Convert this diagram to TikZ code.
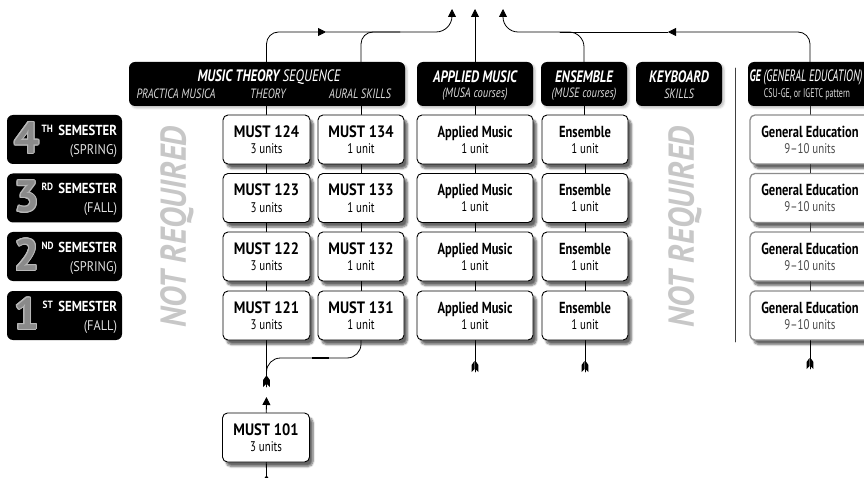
\documentclass[tikz,border=0pt]{standalone}
\usepackage{fontspec}
\setmainfont[FakeStretch=0.78]{PT Sans}
\newfontfamily\widefont[FakeStretch=0.88]{PT Sans}
\newfontfamily\semifont[FakeStretch=0.88]{PT Sans}
\newfontfamily\bigdigit{PT Sans}
\usepackage{contour}
\contourlength{0.9pt}
\usetikzlibrary{arrows.meta,shadows.blur,calc}
\newcommand{\ctitle}{\widefont\fontsize{16.5}{19}\selectfont\bfseries}
\newcommand{\atitle}{\fontsize{16}{19}\selectfont\bfseries}
\newcommand{\cunits}{\fontsize{14}{15}\selectfont}
\definecolor{semgray}{HTML}{8A8A8A}
\definecolor{gegray}{HTML}{8C8C8C}
\tikzset{fletch/.pic={
  \draw[line width=0.8pt] (0,0) -- (0,11);
  \fill (-0.5,0) -- (-3.4,4) -- (-3.4,11) -- (-0.5,8) -- cycle;
  \fill (0.5,0) -- (3.4,4) -- (3.4,11) -- (0.5,8) -- cycle;}}

\begin{document}
\begin{tikzpicture}[x=1pt,y=-1pt,line cap=round,line join=round,
  head/.style={fill=black,rounded corners=6pt,minimum height=44pt,minimum width=#1,inner sep=0pt,
    blur shadow={shadow xshift=2pt,shadow yshift=-2pt,shadow opacity=25,shadow blur steps=4}},
  headtxt/.style={text=white,font=\fontsize{16.5}{17}\selectfont\bfseries\itshape,inner sep=0pt},
  headsub/.style={text=white!85!black,font=\fontsize{13.5}{14}\selectfont\itshape,inner sep=0pt},
  course/.style={draw,line width=0.9pt,fill=white,rounded corners=5pt,minimum width=#1,minimum height=49pt,
    inner sep=0pt,align=center,font=\cunits,
    blur shadow={shadow xshift=3.5pt,shadow yshift=-4.5pt,shadow opacity=60,shadow blur steps=6}},
  gecourse/.style={course=120,draw=gegray,line width=1.3pt},
  sem/.style={fill=black,rounded corners=6pt,minimum width=115pt,minimum height=49pt,inner sep=0pt},
  semdigit/.style={text=semgray,font=\bigdigit\fontsize{44}{44}\selectfont\bfseries,inner sep=0pt,anchor=base},
  semsup/.style={text=white,font=\semifont\fontsize{10.5}{10}\selectfont\bfseries,inner sep=0pt,anchor=base west},
  semword/.style={text=white,font=\semifont\fontsize{14.5}{15}\selectfont\bfseries,inner sep=0pt,anchor=base east},
  semseason/.style={text=white!88!black,font=\semifont\fontsize{14}{15}\selectfont,inner sep=0pt,anchor=base east},
  notreq/.style={text=black!22,font=\semifont\fontsize{36}{36}\selectfont\bfseries\itshape,inner sep=0pt,rotate=90},
  flow/.style={line width=0.8pt},
  link/.style={line width=0.8pt},
  tip/.style={-{Triangle[length=8pt,width=8pt]}}]
\useasboundingbox (0,0) rectangle (864,478);
\clip (0,0) rectangle (864,478);

% semesters
\node[sem] (sem4) at (64.5,139.5) {};
\node[semdigit] (d4) at ($(sem4.south west)+(20,-11)$) {\contour{white!72!black}{4}};
\node[semsup] (s4) at ($(d4.base east)+(2,-21)$) {TH};
\node[semword] (w4) at ($(sem4.south east)+(-5,-29)$) {SEMESTER};
\node[semseason] (t4) at ($(sem4.south east)+(-5,-10)$) {(SPRING)};
\node[sem] (sem3) at (64.5,198) {};
\node[semdigit] (d3) at ($(sem3.south west)+(20,-11)$) {\contour{white!72!black}{3}};
\node[semsup] (s3) at ($(d3.base east)+(2,-21)$) {RD};
\node[semword] (w3) at ($(sem3.south east)+(-5,-29)$) {SEMESTER};
\node[semseason] (t3) at ($(sem3.south east)+(-5,-10)$) {(FALL)};
\node[sem] (sem2) at (64.5,256.5) {};
\node[semdigit] (d2) at ($(sem2.south west)+(20,-11)$) {\contour{white!72!black}{2}};
\node[semsup] (s2) at ($(d2.base east)+(2,-21)$) {ND};
\node[semword] (w2) at ($(sem2.south east)+(-5,-29)$) {SEMESTER};
\node[semseason] (t2) at ($(sem2.south east)+(-5,-10)$) {(SPRING)};
\node[sem] (sem1) at (64.5,315.5) {};
\node[semdigit] (d1) at ($(sem1.south west)+(20,-11)$) {\contour{white!72!black}{1}};
\node[semsup] (s1) at ($(d1.base east)+(3,-21)$) {ST};
\node[semword] (w1) at ($(sem1.south east)+(-5,-29)$) {SEMESTER};
\node[semseason] (t1) at ($(sem1.south east)+(-5,-10)$) {(FALL)};

% headers
\node[head=276] (hTh) at (267,84) {};
\node[headtxt] (hThA) at (269,77) {MUSIC THEORY \mdseries SEQUENCE};
\node[headsub] (hThP) at (176,94) {PRACTICA MUSICA};
\node[headsub] (hThT) at (268,94) {THEORY};
\node[headsub] (hThS) at (360,94) {AURAL SKILLS};
\node[head=116] (hAp) at (475,84) {};
\node[headtxt] (hApA) at (475,77) {APPLIED MUSIC};
\node[headsub] (hApB) at (475,94) {(MUSA courses)};
\node[head=86] (hEn) at (584,84) {};
\node[headtxt] (hEnA) at (584,77) {ENSEMBLE};
\node[headsub] (hEnB) at (584,94) {(MUSE courses)};
\node[head=86] (hKb) at (679,84) {};
\node[headtxt] (hKbA) at (679,77) {KEYBOARD};
\node[headsub] (hKbB) at (679,94) {SKILLS};
\node[head=124] (hGE) at (810,84) {};
\node[headtxt] (hGEA) at (806,77) {\scalebox{0.81}[1]{GE \mdseries(GENERAL EDUCATION)}};
\node[headsub,font=\fontsize{12.5}{13}\selectfont] (hGEB) at (807,94) {\scalebox{0.82}[1]{CSU-GE, or IGETC pattern}};

% not required
\node[notreq] (nr1) at (177,227) {NOT REQUIRED};
\node[notreq] (nr2) at (685,227) {NOT REQUIRED};
\draw[line width=0.6pt,black!75] (735,68) -- (735,342);

% theory
\node[course=87] (m124) at (266.5,139.5) {{\ctitle MUST 124}\\[1.5pt]3 units};
\node[course=87] (m123) at (266.5,198) {{\ctitle MUST 123}\\[1.5pt]3 units};
\node[course=87] (m122) at (266.5,256.5) {{\ctitle MUST 122}\\[1.5pt]3 units};
\node[course=87] (m121) at (266.5,315.5) {{\ctitle MUST 121}\\[1.5pt]3 units};
\node[course=87] (m101) at (266,437.5) {{\ctitle MUST 101}\\[1.5pt]3 units};
% aural skills
\node[course=86] (m134) at (361,139.5) {{\ctitle MUST 134}\\[1.5pt]1 unit};
\node[course=86] (m133) at (361,198) {{\ctitle MUST 133}\\[1.5pt]1 unit};
\node[course=86] (m132) at (361,256.5) {{\ctitle MUST 132}\\[1.5pt]1 unit};
\node[course=86] (m131) at (361,315.5) {{\ctitle MUST 131}\\[1.5pt]1 unit};
% applied music
\node[course=116] (ap4) at (475,139.5) {{\atitle Applied Music}\\[1pt]1 unit};
\node[course=116] (ap3) at (475,198) {{\atitle Applied Music}\\[1pt]1 unit};
\node[course=116] (ap2) at (475,256.5) {{\atitle Applied Music}\\[1pt]1 unit};
\node[course=116] (ap1) at (475,315.5) {{\atitle Applied Music}\\[1pt]1 unit};
% ensemble
\node[course=86] (en4) at (585,139.5) {{\atitle Ensemble}\\[1pt]1 unit};
\node[course=86] (en3) at (585,198) {{\atitle Ensemble}\\[1pt]1 unit};
\node[course=86] (en2) at (585,256.5) {{\atitle Ensemble}\\[1pt]1 unit};
\node[course=86] (en1) at (585,315.5) {{\atitle Ensemble}\\[1pt]1 unit};
% general education
\node[gecourse] (ge4) at (810,139.5) {{\atitle General Education}\\[1pt]\textcolor{black!70}{9–10 units}};
\node[gecourse] (ge3) at (810,198) {{\atitle General Education}\\[1pt]\textcolor{black!70}{9–10 units}};
\node[gecourse] (ge2) at (810,256.5) {{\atitle General Education}\\[1pt]\textcolor{black!70}{9–10 units}};
\node[gecourse] (ge1) at (810,315.5) {{\atitle General Education}\\[1pt]\textcolor{black!70}{9–10 units}};

% column links
\draw[link] (hTh.south -| m124) -- (m124);
\draw[link] (m124) -- (m123);
\draw[link] (m123) -- (m122);
\draw[link] (m122) -- (m121);
\draw[link] (hTh.south -| m134) -- (m134);
\draw[link] (m134) -- (m133);
\draw[link] (m133) -- (m132);
\draw[link] (m132) -- (m131);
\draw[link] (hAp) -- (ap4);
\draw[link] (ap4) -- (ap3);
\draw[link] (ap3) -- (ap2);
\draw[link] (ap2) -- (ap1);
\draw[link] (hEn) -- (en4);
\draw[link] (en4) -- (en3);
\draw[link] (en3) -- (en2);
\draw[link] (en2) -- (en1);
\draw[link,black!80] (hGE) -- (ge4);
\draw[link,black!80] (ge4) -- (ge3);
\draw[link,black!80] (ge3) -- (ge2);
\draw[link,black!80] (ge2) -- (ge1);

% top arrows
\coordinate (midR) at (326,32);
\coordinate (joinA) at (400,32);
\coordinate (outTh) at (452,9);
\coordinate (outEn) at (503,9);
\coordinate (midL) at (668,32);
\coordinate (joinE) at (560,32);
\draw[flow,tip,rounded corners=12pt] (hTh.north -| m124) |- (midR);
\draw[flow,tip,rounded corners=16pt] (midR) -| (outTh);
\draw[flow,rounded corners=12pt] (hTh.north -| m134) |- (joinA);
\draw[flow,tip] (hAp.north) -- (hAp.north |- outTh);
\draw[flow,tip,rounded corners=15pt] (hEn.north) -- (hEn.north |- midL) -| (outEn);
\draw[flow,tip,rounded corners=12pt] (hGE.north) |- (midL);
\draw[flow] (midL) -- (joinE);

% bottom tails
\coordinate (tailTh) at (266.5,376);
\coordinate (tipT) at (266.5,397);
\coordinate (tail101) at (266.5,476);
\coordinate (tailAp) at (475,361);
\coordinate (tailEn) at (585,361);
\coordinate (tailGE) at (810,358);
\draw[flow] (m121) -- (tailTh);
\draw[flow,rounded corners=14pt] (m131.south) |- ($(tailTh)+(0,-18)$) -- (tailTh);
\draw[line width=2.2pt,line cap=butt] (312,358) -- (329,358);
\draw[flow,tip] (m101) -- (tipT);
\draw[flow] (m101) -- (tail101);
\draw[flow] (ap1) -- (tailAp);
\draw[flow] (en1) -- (tailEn);
\draw[flow] (ge1) -- (tailGE);
\pic at (tailTh) {fletch};
\pic at (tailAp) {fletch};
\pic at (tailEn) {fletch};
\pic at (tailGE) {fletch};
\pic at (tail101) {fletch};
\end{tikzpicture}
\end{document}
